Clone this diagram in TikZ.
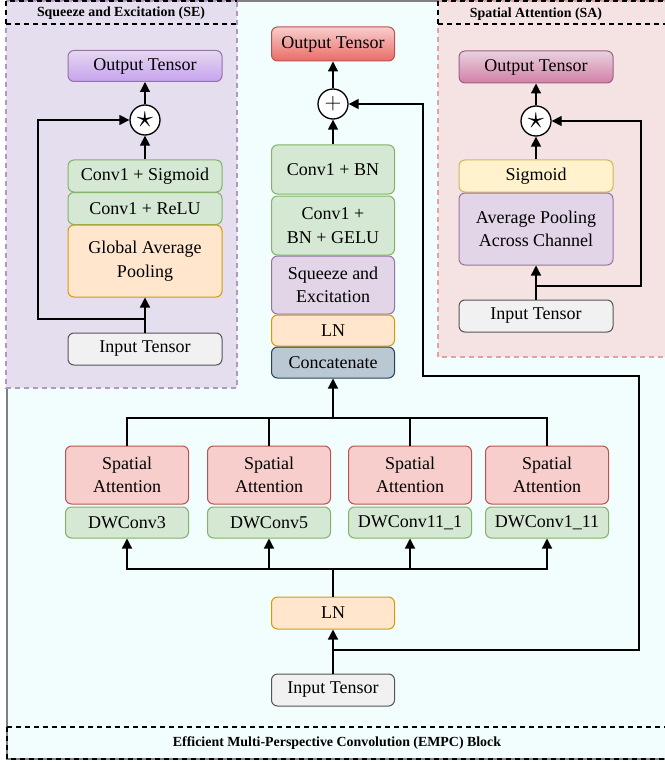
\documentclass[tikz,border=0pt]{standalone}
\usepackage{fontspec}
\setmainfont{Liberation Serif}
\usetikzlibrary{arrows.meta}

\definecolor{empcbg}{HTML}{F2FDFE}
\definecolor{sebg}{HTML}{E5DEEE}
\definecolor{sabg}{HTML}{F5E3E3}
\definecolor{seline}{HTML}{B495C8}
\definecolor{saline}{HTML}{E3A3A3}
\definecolor{greenfill}{HTML}{D5E8D4}
\definecolor{greenline}{HTML}{82B366}
\definecolor{orangefill}{HTML}{FFE6CC}
\definecolor{orangeline}{HTML}{D79B00}
\definecolor{purplefill}{HTML}{E1D5E7}
\definecolor{purpleline}{HTML}{9673A6}
\definecolor{redfill}{HTML}{F8CECC}
\definecolor{redline}{HTML}{B85450}
\definecolor{yellowfill}{HTML}{FFF2CC}
\definecolor{yellowline}{HTML}{D6B656}
\definecolor{grayfill}{HTML}{F1F1F1}
\definecolor{grayline}{HTML}{555555}
\definecolor{catfill}{HTML}{BAC8D3}
\definecolor{catline}{HTML}{23445D}
\definecolor{seouttop}{HTML}{E6D8F0}
\definecolor{seoutbot}{HTML}{C6A2EE}
\definecolor{saouttop}{HTML}{E8D2DE}
\definecolor{saoutbot}{HTML}{D27FA5}
\definecolor{saoutline}{HTML}{996185}
\definecolor{moutbot}{HTML}{EA6B66}

\tikzset{
  blk/.style={draw, rounded corners=6pt, line width=1pt, align=center,
    inner sep=2pt, font=\fontsize{18}{23.5}\selectfont},
  greenblk/.style={blk, fill=greenfill, draw=greenline},
  orangeblk/.style={blk, fill=orangefill, draw=orangeline},
  purpleblk/.style={blk, fill=purplefill, draw=purpleline},
  redblk/.style={blk, fill=redfill, draw=redline},
  yellowblk/.style={blk, fill=yellowfill, draw=yellowline},
  grayblk/.style={blk, fill=grayfill, draw=grayline},
  catblk/.style={blk, fill=catfill, draw=catline},
  op/.style={circle, draw, fill=white, line width=1.3pt, minimum size=30pt,
    inner sep=0pt, font=\fontsize{18}{20}\selectfont},
  conn/.style={line width=1.3pt},
  arr/.style={conn, -{Triangle[length=10pt,width=10pt]}},
  titleline/.style={line width=1.2pt, dash pattern=on 5pt off 4pt},
  titletext/.style={font=\fontsize{13.9}{15}\selectfont\bfseries},
}
\newcommand{\bigstar}{\scalebox{1.9}{$\star$}}
\newcommand{\bigplus}{\scalebox{1.35}{$+$}}

\begin{document}
\begin{tikzpicture}[x=1pt,y=-1pt]
  \useasboundingbox (0,0) rectangle (664,762);

  % EMPC block
  \draw[gray, line width=1.5pt, fill=empcbg] (7,1) rectangle (670,759);
  \draw[titleline] (7,727) -- (670,727);
  \draw[titleline] (7,727) |- (670,759);
  \node[titletext] (empctitle) at (337,743)
    {Efficient Multi-Perspective Convolution (EMPC) Block};

  % SE panel
  \draw[seline, fill=sebg, line width=1.2pt, dash pattern=on 5pt off 4pt]
    (6,1) rectangle (237,388);
  \draw[titleline] (6,24) -- (237,24);
  \draw[titleline] (6,24) |- (237,1);
  \node[titletext] (setitle) at (121,13) {Squeeze and Excitation (SE)};

  \node[blk, minimum width=154pt, minimum height=31pt, draw=purpleline,
    top color=seouttop, bottom color=seoutbot]
    (seout) at (145,66) {Output Tensor};
  \node[op] (sestar) at (145,120) {\bigstar};
  \node[greenblk, minimum width=154pt, minimum height=32pt]
    (sesig) at (145,176) {Conv1 + Sigmoid};
  \node[greenblk, minimum width=154pt, minimum height=32pt]
    (serelu) at (145,208.5) {Conv1 + ReLU};
  \node[orangeblk, minimum width=154pt, minimum height=72pt]
    (segap) at (145,261) {Global Average\\Pooling};
  \node[grayblk, minimum width=154pt, minimum height=32pt]
    (sein) at (145,349) {Input Tensor};
  \coordinate (sesplit) at (145,319);
  \coordinate (seturn) at (38,319);

  \draw[arr] (sein) -- (segap);
  \draw[arr] (sesplit) -- (seturn) |- (sestar);
  \draw[arr] (sesig) -- (sestar);
  \draw[arr] (sestar) -- (seout);

  % SA panel
  \draw[saline, fill=sabg, line width=1.2pt, dash pattern=on 5pt off 4pt]
    (438,1) rectangle (670,357);
  \draw[titleline] (438,24) -- (670,24);
  \draw[titleline] (438,24) |- (670,1);
  \node[titletext] (satitle) at (536,14) {Spatial Attention (SA)};

  \node[blk, minimum width=154pt, minimum height=32pt, draw=saoutline,
    top color=saouttop, bottom color=saoutbot]
    (saout) at (536,67) {Output Tensor};
  \node[op] (sastar) at (536,121) {\bigstar};
  \node[yellowblk, minimum width=154pt, minimum height=32pt]
    (sasig) at (536,176) {Sigmoid};
  \node[purpleblk, minimum width=154pt, minimum height=72pt]
    (saavg) at (536,229) {Average Pooling\\Across Channel};
  \node[grayblk, minimum width=154pt, minimum height=32pt]
    (sain) at (536,316) {Input Tensor};
  \coordinate (sasplit) at (536,286);
  \coordinate (saturn) at (641,286);

  \draw[arr] (sain) -- (saavg);
  \draw[arr] (sasplit) -- (saturn) |- (sastar);
  \draw[arr] (sasig) -- (sastar);
  \draw[arr] (sastar) -- (saout);

  % main column
  \node[blk, minimum width=123pt, minimum height=34pt, draw=redline,
    top color=redfill, bottom color=moutbot]
    (mout) at (333,44) {Output Tensor};
  \node[op] (mplus) at (333,104) {\bigplus};
  \node[greenblk, minimum width=123pt, minimum height=49pt]
    (mconvbn) at (333,169.5) {Conv1 + BN};
  \node[greenblk, minimum width=123pt, minimum height=59pt]
    (mgelu) at (333,225.5) {Conv1 +\\BN + GELU};
  \node[purpleblk, minimum width=123pt, minimum height=58pt]
    (mse) at (333,285) {Squeeze and\\Excitation};
  \node[orangeblk, minimum width=123pt, minimum height=31pt]
    (mln) at (333,330.5) {LN};
  \node[catblk, minimum width=123pt, minimum height=31pt]
    (mcat) at (333,362.5) {Concatenate};

  % branches
  \node[redblk, minimum width=123pt, minimum height=58pt]
    (sa1) at (127,475) {Spatial\\Attention};
  \node[redblk, minimum width=123pt, minimum height=58pt]
    (sa2) at (269,475) {Spatial\\Attention};
  \node[redblk, minimum width=123pt, minimum height=58pt]
    (sa3) at (410,475) {Spatial\\Attention};
  \node[redblk, minimum width=123pt, minimum height=58pt]
    (sa4) at (547,475) {Spatial\\Attention};
  \node[greenblk, minimum width=123pt, minimum height=31pt]
    (dw1) at (127,522.5) {DWConv3};
  \node[greenblk, minimum width=123pt, minimum height=31pt]
    (dw2) at (269,522.5) {DWConv5};
  \node[greenblk, minimum width=123pt, minimum height=31pt]
    (dw3) at (410,522.5) {DWConv11\_1};
  \node[greenblk, minimum width=123pt, minimum height=31pt]
    (dw4) at (547,522.5) {DWConv1\_11};

  \node[orangeblk, minimum width=123pt, minimum height=32pt]
    (lnin) at (333,613) {LN};
  \node[grayblk, minimum width=123pt, minimum height=32pt]
    (input) at (333,690) {Input Tensor};

  \coordinate (merge) at (333,418);
  \coordinate (split) at (333,569);
  \coordinate (mskip) at (333,650);
  \coordinate (mright) at (639,376);
  \coordinate (mleft) at (423,376);

  % connectors
  \draw[arr] (input) -- (lnin);
  \draw[conn] (lnin) -- (split);
  \draw[arr] (split) -| (dw1);
  \draw[arr] (split) -| (dw2);
  \draw[arr] (split) -| (dw3);
  \draw[arr] (split) -| (dw4);
  \draw[conn] (sa1.north) |- (merge);
  \draw[conn] (sa4.north) |- (merge);
  \draw[conn] (sa2.north) -- (sa2.north |- merge);
  \draw[conn] (sa3.north) -- (sa3.north |- merge);
  \draw[arr] (merge) -- (mcat);
  \draw[arr] (mskip) -| (mright) -- (mleft) |- (mplus);
  \draw[arr] (mconvbn) -- (mplus);
  \draw[arr] (mplus) -- (mout);
\end{tikzpicture}
\end{document}
